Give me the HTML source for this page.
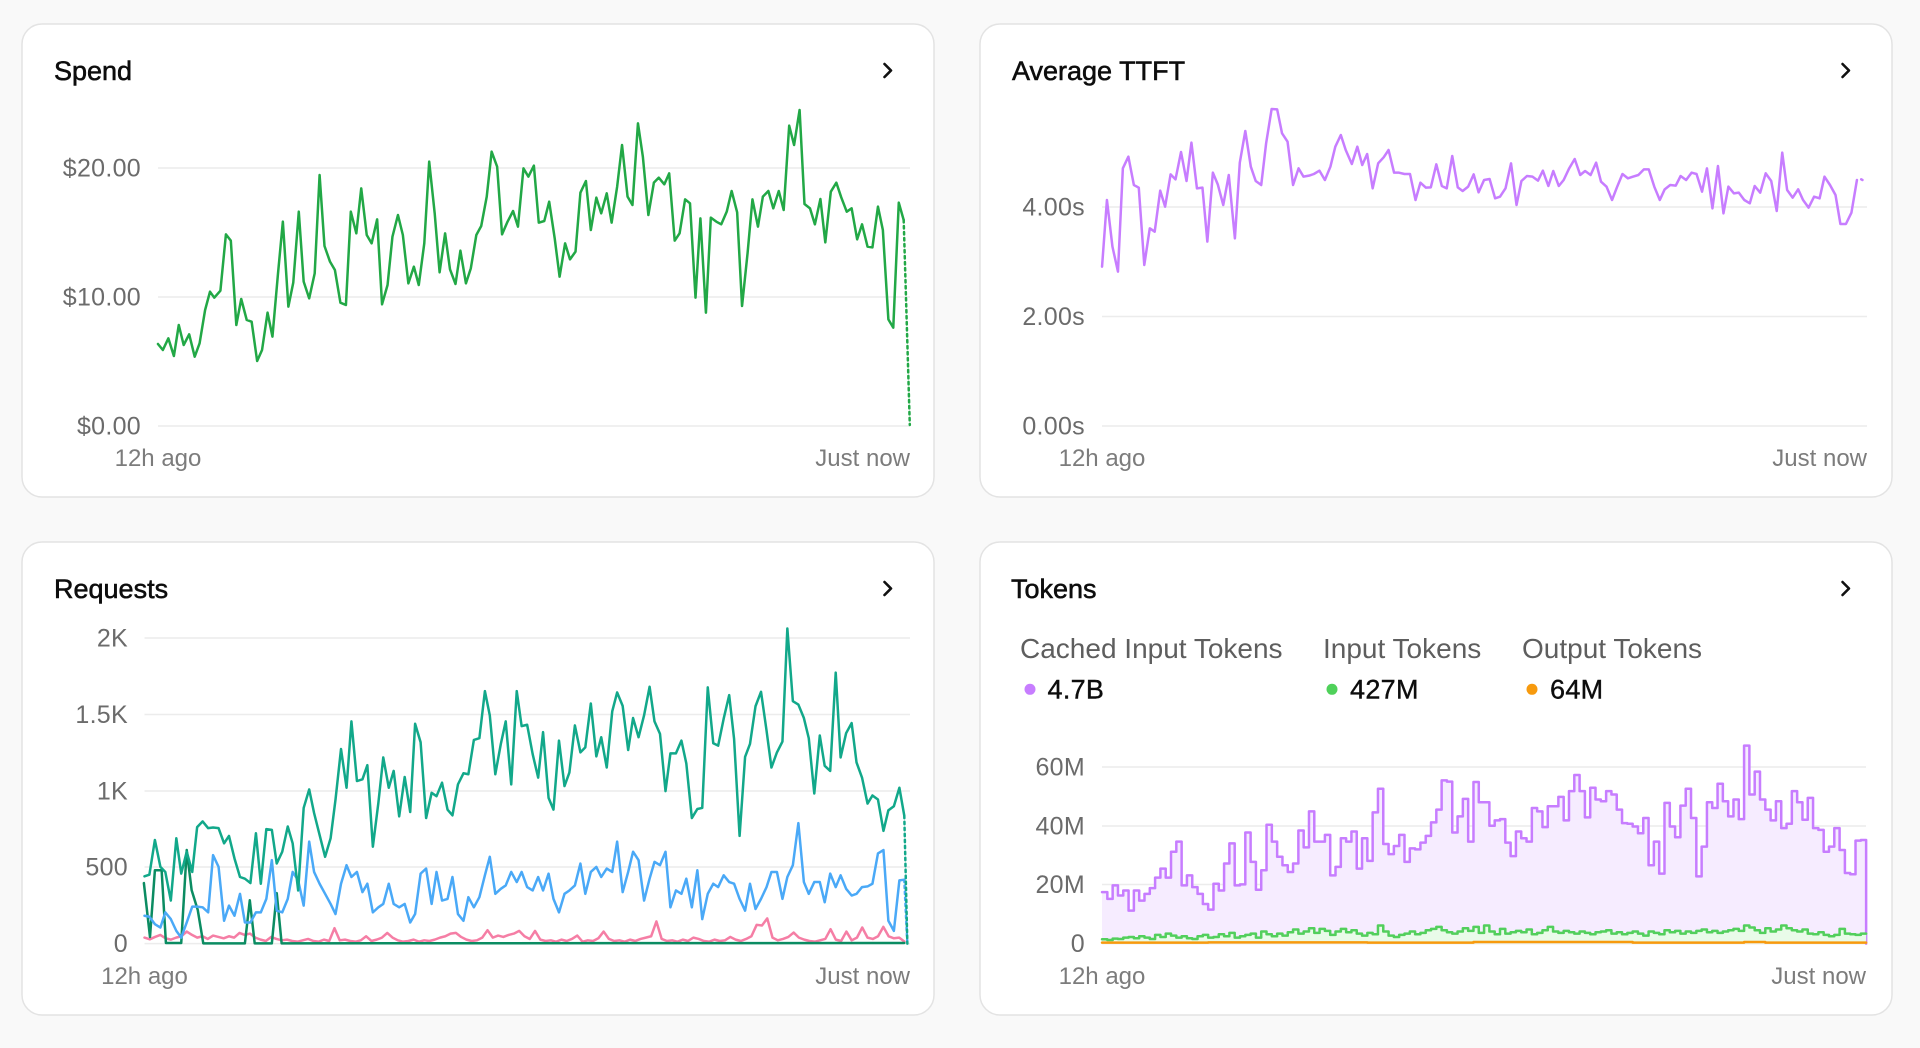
<!DOCTYPE html>
<html><head><meta charset="utf-8"><style>
html,body{margin:0;padding:0;background:#f9f9f9;}
svg{display:block;font-family:"Liberation Sans",sans-serif;}
.t{font-size:27px;fill:#0d0d0d;stroke:#0d0d0d;stroke-width:0.55px;}
.y{font-size:25px;fill:#6b6b6b;letter-spacing:0.3px;}
.x{font-size:24px;fill:#7c7c7c;}
.lg{font-size:28px;fill:#5e5e5e;}
.lv{font-size:27px;fill:#0d0d0d;stroke:#0d0d0d;stroke-width:0.4px;letter-spacing:0.3px;}
.g{stroke:#ececec;stroke-width:1.5;}
.ln{fill:none;stroke-width:2.5;stroke-linejoin:round;stroke-linecap:round;}
</style></head><body>
<svg width="1920" height="1048" viewBox="0 0 1920 1048" xmlns="http://www.w3.org/2000/svg">
<rect x="0" y="0" width="1920" height="1048" fill="#f9f9f9"/>
<rect x="22" y="24" width="912" height="473" rx="20" fill="#fff" stroke="#e3e3e3" stroke-width="1.5"/>
<rect x="980" y="24" width="912" height="473" rx="20" fill="#fff" stroke="#e3e3e3" stroke-width="1.5"/>
<rect x="22" y="542" width="912" height="473" rx="20" fill="#fff" stroke="#e3e3e3" stroke-width="1.5"/>
<rect x="980" y="542" width="912" height="473" rx="20" fill="#fff" stroke="#e3e3e3" stroke-width="1.5"/>

<text class="t" x="54" y="80">Spend</text>
<text class="t" x="1012" y="80">Average TTFT</text>
<text class="t" x="54" y="598">Requests</text>
<text class="t" x="1011" y="598">Tokens</text>
<g fill="none" stroke="#111" stroke-width="2.6" stroke-linecap="round" stroke-linejoin="round">
<polyline points="884.5,64 891,70.5 884.5,77"/>
<polyline points="1842.5,64 1849,70.5 1842.5,77"/>
<polyline points="884.5,582 891,588.5 884.5,595"/>
<polyline points="1842.5,582 1849,588.5 1842.5,595"/>
</g>

<line class="g" x1="158" y1="168" x2="910" y2="168"/>
<line class="g" x1="158" y1="297" x2="910" y2="297"/>
<line class="g" x1="158" y1="426" x2="910" y2="426"/>
<line class="g" x1="1102" y1="207" x2="1867" y2="207"/>
<line class="g" x1="1102" y1="316.5" x2="1867" y2="316.5"/>
<line class="g" x1="1102" y1="426" x2="1867" y2="426"/>
<line class="g" x1="144.5" y1="638" x2="910" y2="638"/>
<line class="g" x1="144.5" y1="714.5" x2="910" y2="714.5"/>
<line class="g" x1="144.5" y1="791" x2="910" y2="791"/>
<line class="g" x1="144.5" y1="867" x2="910" y2="867"/>
<line class="g" x1="144.5" y1="943.6" x2="910" y2="943.6"/>
<line class="g" x1="1102" y1="767" x2="1866" y2="767"/>
<line class="g" x1="1102" y1="826" x2="1866" y2="826"/>
<line class="g" x1="1102" y1="884.5" x2="1866" y2="884.5"/>
<line class="g" x1="1102" y1="943.6" x2="1866" y2="943.6"/>

<g class="y" text-anchor="end">
<text x="141" y="176.5">$20.00</text>
<text x="141" y="305.5">$10.00</text>
<text x="141" y="434.5">$0.00</text>
<text x="1085" y="215.5">4.00s</text>
<text x="1085" y="325">2.00s</text>
<text x="1085" y="434.5">0.00s</text>
<text x="128" y="646.5">2K</text>
<text x="128" y="723">1.5K</text>
<text x="128" y="799.5">1K</text>
<text x="128" y="875.5">500</text>
<text x="128" y="952">0</text>
<text x="1085" y="775.5">60M</text>
<text x="1085" y="834.5">40M</text>
<text x="1085" y="893">20M</text>
<text x="1085" y="952">0</text>
</g>
<g class="x">
<text x="158" y="466" text-anchor="middle">12h ago</text>
<text x="910" y="466" text-anchor="end">Just now</text>
<text x="1102" y="466" text-anchor="middle">12h ago</text>
<text x="1867" y="466" text-anchor="end">Just now</text>
<text x="144.5" y="984" text-anchor="middle">12h ago</text>
<text x="910" y="984" text-anchor="end">Just now</text>
<text x="1102" y="984" text-anchor="middle">12h ago</text>
<text x="1866" y="984" text-anchor="end">Just now</text>
</g>

<text class="lg" x="1020" y="658">Cached Input Tokens</text>
<text class="lg" x="1323" y="658">Input Tokens</text>
<text class="lg" x="1522" y="658">Output Tokens</text>
<circle cx="1030" cy="689.3" r="5.5" fill="#c77dff"/>
<circle cx="1332" cy="689.3" r="5.5" fill="#4fd15a"/>
<circle cx="1532" cy="689.3" r="5.5" fill="#f79a0e"/>
<text class="lv" x="1047.5" y="698.5">4.7B</text>
<text class="lv" x="1350" y="698.5">427M</text>
<text class="lv" x="1550" y="698.5">64M</text>

<!-- SPEND -->
<g transform="scale(0.612245,0.333333)">
<polyline class="ln" vector-effect="non-scaling-stroke" stroke="#22a846" points="258,1032 266,1050 275,1015 284,1068 292,975 300,1035 309,1003 318,1070 326,1030 335,930 343,875 350,893 360,872 369,703 377,722 386,975 394,897 403,960 411,965 420,1083 428,1050 437,938 445,1010 454,822 462,665 471,920 479,848 488,635 496,845 505,895 514,820 522,525 530,738 539,785 547,810 556,908 565,915 573,635 582,700 590,565 599,705 607,730 616,658 624,913 633,855 641,710 650,645 658,705 667,850 676,800 684,855 693,730 701,485 710,640 718,817 727,700 735,808 744,852 752,752 761,850 769,805 778,705 786,678 795,590 803,455 812,500 820,703 829,665 838,633 846,680 855,505 863,530 872,497 880,668 889,663 897,605 906,715 914,830 923,730 931,778 940,755 948,578 957,543 965,690 974,593 982,640 991,580 999,668 1008,560 1016,435 1025,590 1033,615 1042,370 1050,470 1059,645 1068,548 1076,533 1085,553 1093,520 1102,722 1110,700 1119,598 1127,610 1136,893 1144,655 1153,938 1161,653 1170,665 1178,673 1187,635 1195,573 1204,637 1212,918 1221,760 1229,598 1238,680 1246,590 1255,573 1263,625 1272,573 1280,630 1289,377 1297,435 1306,330 1314,612 1323,625 1331,673 1340,597 1348,727 1357,575 1366,548 1374,592 1383,635 1391,625 1400,718 1408,673 1417,740 1425,742 1434,620 1442,690 1451,958 1459,983 1468,608 1476,660"/>
<polyline class="ln" vector-effect="non-scaling-stroke" stroke="#22a846" stroke-dasharray="2.5 3.5" stroke-linecap="butt" points="1476,660 1486,1275"/>
</g>

<!-- TTFT -->
<g transform="translate(960,0) scale(0.612245,0.333333)">
<polyline class="ln" vector-effect="non-scaling-stroke" stroke="#c77dff" points="232,800 240,600 249,740 258,815 266,505 275,470 284,555 292,563 301,795 310,685 318,695 327,572 335,620 344,523 352,538 361,456 370,543 378,428 387,565 396,563 404,725 413,518 421,553 430,615 439,525 449,715 457,488 466,393 475,500 483,543 492,555 500,430 509,327 518,328 526,400 535,425 544,555 553,505 561,530 570,527 578,522 587,512 596,540 605,500 613,440 622,405 630,450 640,492 649,440 657,495 665,462 674,565 683,490 692,472 700,450 709,518 717,518 726,522 735,522 744,600 752,548 761,563 769,562 778,493 787,558 795,565 804,468 813,562 821,573 830,560 839,523 847,577 856,540 865,537 874,595 882,590 891,565 900,490 909,615 917,543 926,528 935,530 944,542 952,512 961,558 969,513 978,558 986,540 995,505 1004,477 1013,525 1021,513 1030,525 1039,488 1047,545 1056,560 1065,600 1073,562 1082,522 1091,535 1099,530 1108,525 1117,508 1125,508 1134,560 1143,600 1151,568 1160,555 1169,557 1177,528 1186,540 1195,518 1203,522 1212,575 1220,505 1229,625 1238,498 1247,640 1255,560 1264,580 1272,578 1281,600 1290,610 1298,558 1307,578 1316,520 1325,543 1334,633 1343,458 1351,570 1360,593 1369,568 1377,600 1386,623 1395,590 1404,595 1412,530 1421,555 1430,585 1438,672 1447,672 1456,638 1465,540"/>
<polyline class="ln" vector-effect="non-scaling-stroke" stroke="#c77dff" points="1472,538 1474,540"/>
</g>

<!-- REQUESTS -->
<g transform="translate(0,520) scale(0.612245,0.33679)">
<g transform="translate(236,0) scale(8.62,1)">
<polyline class="ln" vector-effect="non-scaling-stroke" stroke="#f57ea5" points="0,1240 1,1245 2,1238 3,1232 4,1242 5,1246 6,1240 7,1236 8,1222 9,1232 10,1240 11,1236 12,1244 13,1234 14,1238 15,1242 16,1236 17,1240 18,1226 19,1232 20,1228 21,1240 22,1246 23,1250 24,1238 25,1244 26,1248 27,1246 28,1250 29,1252 30,1248 31,1244 32,1250 33,1252 34,1246 35,1250 36,1212 37,1248 38,1246 39,1250 40,1252 41,1248 42,1236 43,1250 44,1246 45,1240 46,1226 47,1240 48,1248 49,1252 50,1250 51,1246 52,1252 53,1248 54,1250 55,1246 56,1240 57,1236 58,1228 59,1226 60,1238 61,1246 62,1250 63,1248 64,1240 65,1218 66,1240 67,1234 68,1238 69,1232 70,1228 71,1220 72,1236 73,1244 74,1220 75,1246 76,1250 77,1248 78,1252 79,1246 80,1250 81,1244 82,1234 83,1252 84,1248 85,1250 86,1242 87,1222 88,1244 89,1250 90,1248 91,1252 92,1246 93,1250 94,1244 95,1240 96,1236 97,1192 98,1244 99,1250 100,1248 101,1252 102,1246 103,1250 104,1240 105,1244 106,1250 107,1252 108,1246 109,1250 110,1248 111,1238 112,1246 113,1250 114,1244 115,1236 116,1202 117,1204 118,1183 119,1240 120,1248 121,1244 122,1238 123,1225 124,1240 125,1246 126,1250 127,1252 128,1248 129,1244 130,1215 131,1246 132,1250 133,1222 134,1248 135,1240 136,1210 137,1240 138,1244 139,1236 140,1208 141,1236 142,1242 143,1240 144,1252"/>
</g>
<polyline class="ln" vector-effect="non-scaling-stroke" stroke="#0b8c62" points="235,1078 245,1238 253,1040 264,1040 271,1256 296,1256 305,980 313,1099 323,1158 332,1257 400,1257 408,1129 416,1257 444,1257 452,1108 460,1257 1477,1256"/>
<polyline class="ln" vector-effect="non-scaling-stroke" stroke="#4aa9f7" points="236,1175 244,1178 253,1200 262,1210 270,1165 279,1185 288,1220 296,1240 305,1195 314,1148 322,1148 331,1150 340,1165 348,995 357,1030 366,1190 374,1145 383,1175 392,1110 400,1195 409,1195 418,1165 426,1165 435,1125 444,1010 452,1160 461,1165 470,1125 478,1045 487,1070 496,1145 505,955 513,1045 522,1080 531,1110 540,1140 548,1170 557,1080 566,1025 574,1060 583,1045 592,1105 600,1080 609,1165 618,1150 626,1140 635,1080 643,1140 652,1150 661,1140 670,1195 678,1170 687,1050 696,1035 705,1140 713,1045 722,1130 731,1125 739,1060 748,1170 757,1190 765,1120 774,1150 783,1120 792,1055 800,1000 809,1110 818,1095 826,1085 835,1045 844,1075 852,1045 861,1090 870,1100 879,1060 887,1100 896,1050 904,1125 913,1165 922,1110 930,1100 939,1085 948,1020 956,1110 965,1045 974,1030 982,1060 991,1035 1000,1045 1008,955 1017,1105 1026,1045 1034,985 1043,1010 1052,1130 1061,1065 1069,1015 1078,1025 1087,985 1095,1150 1104,1100 1113,1110 1121,1065 1130,1150 1139,1040 1147,1185 1156,1110 1165,1080 1173,1090 1182,1055 1191,1075 1199,1080 1208,1125 1217,1160 1225,1080 1234,1155 1243,1125 1252,1090 1260,1045 1269,1045 1278,1125 1286,1060 1295,1025 1304,900 1313,1075 1321,1110 1330,1075 1339,1075 1347,1135 1356,1050 1365,1090 1373,1055 1382,1095 1391,1115 1399,1110 1408,1090 1417,1088 1425,1080 1434,990 1443,980 1451,1190 1460,1220 1469,1070 1477,1068"/>
<polyline class="ln" vector-effect="non-scaling-stroke" stroke="#4aa9f7" stroke-dasharray="2.5 3.5" stroke-linecap="butt" points="1477,1068 1482,1258"/>
<polyline class="ln" vector-effect="non-scaling-stroke" stroke="#12a88a" points="236,1058 244,1053 253,950 262,1030 270,1045 279,1130 288,945 296,1050 305,985 314,1045 322,912 331,895 340,915 348,913 357,915 366,960 374,938 383,1005 392,1060 400,1065 409,1078 418,930 426,1080 435,918 444,920 452,1020 461,985 470,910 478,960 487,1100 496,855 505,800 513,870 522,935 531,1000 540,945 548,830 557,680 566,795 574,598 583,775 592,770 600,728 609,970 618,840 626,705 635,795 643,745 652,880 661,763 670,867 678,605 687,660 696,885 705,810 713,820 722,780 731,860 739,877 748,785 757,752 765,755 774,653 783,648 792,508 800,580 809,755 818,665 826,598 835,785 844,508 852,612 861,608 870,695 879,765 887,630 896,825 904,860 913,655 922,790 930,750 939,610 948,690 956,675 965,545 974,702 982,645 991,735 1000,568 1008,512 1017,552 1026,683 1034,588 1043,645 1052,580 1061,495 1069,598 1078,635 1087,805 1095,693 1104,693 1113,655 1121,723 1130,885 1139,858 1147,855 1156,497 1165,663 1173,670 1182,590 1191,520 1199,650 1208,938 1217,703 1225,665 1234,553 1243,510 1252,625 1260,735 1269,690 1278,658 1286,322 1295,538 1304,548 1313,588 1321,648 1330,812 1339,640 1347,730 1356,745 1365,453 1373,705 1382,633 1391,603 1399,720 1408,765 1417,842 1425,818 1434,830 1443,923 1451,862 1460,850 1469,795 1477,878"/>
<polyline class="ln" vector-effect="non-scaling-stroke" stroke="#12a88a" stroke-dasharray="2.5 3.5" stroke-linecap="butt" points="1477,878 1482,1258"/>
</g>

<!-- TOKENS -->
<g transform="translate(960,520) scale(0.612245,0.33679)">
<g transform="translate(232,0) scale(8.6667,1)">
<path fill="#f6ecff" stroke="none" d="M0,1105 H1V1125 H2V1085 H3V1115 H4V1100 H5V1160 H6V1100 H7V1130 H8V1110 H9V1093 H10V1062 H11V1035 H12V1062 H13V985 H14V955 H15V1085 H16V1055 H17V1090 H18V1110 H19V1140 H20V1157 H21V1080 H22V1100 H23V1020 H24V960 H25V1085 H26V1082 H27V928 H28V1015 H29V1098 H30V1040 H31V905 H32V955 H33V1000 H34V1025 H35V1045 H36V1020 H37V922 H38V972 H39V865 H40V955 H41V955 H42V935 H43V1055 H44V1030 H45V945 H46V955 H47V925 H48V1035 H49V945 H50V1012 H51V868 H52V798 H53V962 H54V992 H55V968 H56V935 H57V1015 H58V975 H59V978 H60V958 H61V938 H62V898 H63V860 H64V773 H65V777 H66V928 H67V880 H68V828 H69V955 H70V778 H71V838 H72V838 H73V908 H74V892 H75V888 H76V958 H77V998 H78V925 H79V945 H80V955 H81V855 H82V865 H83V912 H84V850 H85V850 H86V822 H87V892 H88V805 H89V757 H90V805 H91V883 H92V795 H93V830 H94V835 H95V805 H96V815 H97V860 H98V900 H99V902 H100V910 H101V930 H102V885 H103V1025 H104V955 H105V1050 H106V840 H107V910 H108V942 H109V848 H110V798 H111V885 H112V1058 H113V970 H114V838 H115V855 H116V783 H117V835 H118V880 H119V830 H120V888 H121V670 H122V815 H123V747 H124V830 H125V860 H126V892 H127V835 H128V915 H129V902 H130V805 H131V838 H132V890 H133V825 H134V915 H135V920 H136V985 H137V970 H138V915 H139V980 H140V1048 H141V1052 H142V952 H143V950 H144V1258 H0Z"/>
<path class="ln" vector-effect="non-scaling-stroke" stroke="#c77dff" d="M0,1105 H1V1125 H2V1085 H3V1115 H4V1100 H5V1160 H6V1100 H7V1130 H8V1110 H9V1093 H10V1062 H11V1035 H12V1062 H13V985 H14V955 H15V1085 H16V1055 H17V1090 H18V1110 H19V1140 H20V1157 H21V1080 H22V1100 H23V1020 H24V960 H25V1085 H26V1082 H27V928 H28V1015 H29V1098 H30V1040 H31V905 H32V955 H33V1000 H34V1025 H35V1045 H36V1020 H37V922 H38V972 H39V865 H40V955 H41V955 H42V935 H43V1055 H44V1030 H45V945 H46V955 H47V925 H48V1035 H49V945 H50V1012 H51V868 H52V798 H53V962 H54V992 H55V968 H56V935 H57V1015 H58V975 H59V978 H60V958 H61V938 H62V898 H63V860 H64V773 H65V777 H66V928 H67V880 H68V828 H69V955 H70V778 H71V838 H72V838 H73V908 H74V892 H75V888 H76V958 H77V998 H78V925 H79V945 H80V955 H81V855 H82V865 H83V912 H84V850 H85V850 H86V822 H87V892 H88V805 H89V757 H90V805 H91V883 H92V795 H93V830 H94V835 H95V805 H96V815 H97V860 H98V900 H99V902 H100V910 H101V930 H102V885 H103V1025 H104V955 H105V1050 H106V840 H107V910 H108V942 H109V848 H110V798 H111V885 H112V1058 H113V970 H114V838 H115V855 H116V783 H117V835 H118V880 H119V830 H120V888 H121V670 H122V815 H123V747 H124V830 H125V860 H126V892 H127V835 H128V915 H129V902 H130V805 H131V838 H132V890 H133V825 H134V915 H135V920 H136V985 H137V970 H138V915 H139V980 H140V1048 H141V1052 H142V952 H143V950 H144V1258"/>
<path fill="#e9fbe9" stroke="none" d="M0,1245 H1V1247 H2V1243 H3V1244 H4V1240 H5V1238 H6V1242 H7V1236 H8V1240 H9V1244 H10V1232 H11V1238 H12V1228 H13V1234 H14V1240 H15V1236 H16V1242 H17V1244 H18V1236 H19V1232 H20V1240 H21V1238 H22V1230 H23V1236 H24V1226 H25V1240 H26V1236 H27V1232 H28V1228 H29V1240 H30V1222 H31V1230 H32V1236 H33V1228 H34V1234 H35V1224 H36V1216 H37V1228 H38V1222 H39V1212 H40V1226 H41V1214 H42V1220 H43V1232 H44V1222 H45V1214 H46V1224 H47V1218 H48V1228 H49V1234 H50V1226 H51V1230 H52V1204 H53V1222 H54V1234 H55V1238 H56V1232 H57V1228 H58V1222 H59V1230 H60V1226 H61V1218 H62V1214 H63V1208 H64V1218 H65V1224 H66V1228 H67V1222 H68V1212 H69V1220 H70V1208 H71V1226 H72V1204 H73V1222 H74V1230 H75V1214 H76V1228 H77V1224 H78V1220 H79V1224 H80V1216 H81V1230 H82V1226 H83V1218 H84V1208 H85V1222 H86V1226 H87V1220 H88V1224 H89V1228 H90V1222 H91V1226 H92V1230 H93V1224 H94V1222 H95V1218 H96V1228 H97V1224 H98V1230 H99V1226 H100V1222 H101V1228 H102V1234 H103V1222 H104V1226 H105V1230 H106V1218 H107V1224 H108V1220 H109V1228 H110V1222 H111V1226 H112V1220 H113V1216 H114V1224 H115V1220 H116V1226 H117V1222 H118V1218 H119V1214 H120V1220 H121V1204 H122V1210 H123V1218 H124V1226 H125V1212 H126V1222 H127V1216 H128V1204 H129V1212 H130V1218 H131V1222 H132V1216 H133V1228 H134V1230 H135V1224 H136V1232 H137V1236 H138V1232 H139V1214 H140V1228 H141V1230 H142V1232 H143V1228 H144V1258 H0Z"/>
<path class="ln" vector-effect="non-scaling-stroke" stroke="#52cf5c" d="M0,1245 H1V1247 H2V1243 H3V1244 H4V1240 H5V1238 H6V1242 H7V1236 H8V1240 H9V1244 H10V1232 H11V1238 H12V1228 H13V1234 H14V1240 H15V1236 H16V1242 H17V1244 H18V1236 H19V1232 H20V1240 H21V1238 H22V1230 H23V1236 H24V1226 H25V1240 H26V1236 H27V1232 H28V1228 H29V1240 H30V1222 H31V1230 H32V1236 H33V1228 H34V1234 H35V1224 H36V1216 H37V1228 H38V1222 H39V1212 H40V1226 H41V1214 H42V1220 H43V1232 H44V1222 H45V1214 H46V1224 H47V1218 H48V1228 H49V1234 H50V1226 H51V1230 H52V1204 H53V1222 H54V1234 H55V1238 H56V1232 H57V1228 H58V1222 H59V1230 H60V1226 H61V1218 H62V1214 H63V1208 H64V1218 H65V1224 H66V1228 H67V1222 H68V1212 H69V1220 H70V1208 H71V1226 H72V1204 H73V1222 H74V1230 H75V1214 H76V1228 H77V1224 H78V1220 H79V1224 H80V1216 H81V1230 H82V1226 H83V1218 H84V1208 H85V1222 H86V1226 H87V1220 H88V1224 H89V1228 H90V1222 H91V1226 H92V1230 H93V1224 H94V1222 H95V1218 H96V1228 H97V1224 H98V1230 H99V1226 H100V1222 H101V1228 H102V1234 H103V1222 H104V1226 H105V1230 H106V1218 H107V1224 H108V1220 H109V1228 H110V1222 H111V1226 H112V1220 H113V1216 H114V1224 H115V1220 H116V1226 H117V1222 H118V1218 H119V1214 H120V1220 H121V1204 H122V1210 H123V1218 H124V1226 H125V1212 H126V1222 H127V1216 H128V1204 H129V1212 H130V1218 H131V1222 H132V1216 H133V1228 H134V1230 H135V1224 H136V1232 H137V1236 H138V1232 H139V1214 H140V1228 H141V1230 H142V1232 H143V1228 H144"/>
<path class="ln" vector-effect="non-scaling-stroke" stroke="#f79a0e" d="M0,1255 H20V1254 H50V1255 H70V1253 H100V1255 H121V1253 H125V1255 H144"/>
</g>
</g>
</svg>
</body></html>
